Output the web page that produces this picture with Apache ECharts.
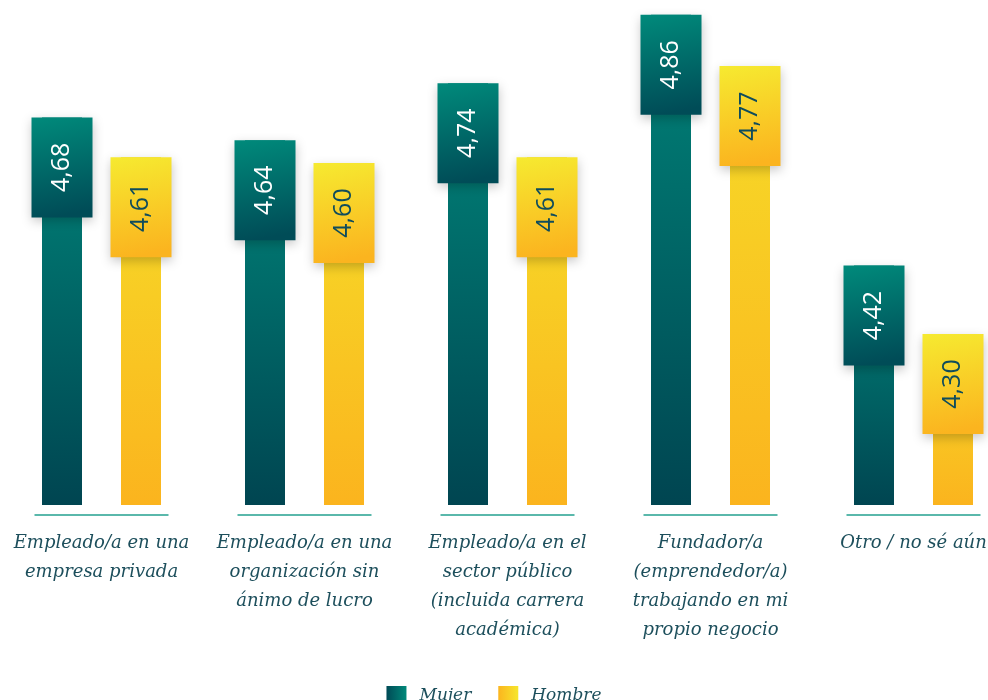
<!DOCTYPE html>
<html>
<head>
<meta charset="utf-8">
<script src="https://cdn.jsdelivr.net/npm/echarts@6/dist/echarts.min.js"></script>
<style>
  html, body { margin: 0; padding: 0; background: #fff; }
  #chart { width: 988px; height: 700px; }
</style>
</head>
<body>
<div id="chart"></div>
<script>
var categories = [
  'Empleado/a en una\nempresa privada',
  'Empleado/a en una\norganización sin\nánimo de lucro',
  'Empleado/a en el\nsector público\n(incluida carrera\nacadémica)',
  'Fundador/a\n(emprendedor/a)\ntrabajando en mi\npropio negocio',
  'Otro / no sé aún'
];
var mujer = [4.68, 4.64, 4.74, 4.86, 4.42];
var hombre = [4.61, 4.60, 4.61, 4.77, 4.30];

var yMin = 4;
var yMax = 4.9;

var chart = echarts.init(document.getElementById('chart'));

function grad(x2, y2, c1, c2) {
  return new echarts.graphic.LinearGradient(0, 0, x2, y2, [
    { offset: 0, color: c1 },
    { offset: 1, color: c2 }
  ]);
}

function fmt(v) {
  return v.toFixed(2).replace('.', ',');
}

// label box sitting on top of each bar
function boxRenderer(offset, c1, c2, textColor) {
  return function (params, api) {
    var p = api.coord([api.value(0), api.value(1)]);
    var x = p[0] + offset;
    return {
      type: 'group',
      children: [
        {
          type: 'rect',
          shape: { x: x - 30.5, y: p[1], width: 61, height: 100 },
          style: {
            fill: grad(0.3, 1, c1, c2),
            shadowBlur: 10,
            shadowOffsetY: 4,
            shadowColor: 'rgba(0,0,0,0.22)'
          }
        },
        {
          type: 'text',
          x: x,
          y: p[1] + 50,
          rotation: Math.PI / 2,
          style: {
            text: fmt(api.value(1)),
            fill: textColor,
            font: '25px "Open Sans"',
            align: 'center',
            verticalAlign: 'middle'
          }
        }
      ]
    };
  };
}

var options = {
  animation: false,
  grid: {
    left: 0, right: -27, top: -8, bottom: 195,
    containLabel: false,
    outerBoundsMode: 'none'
  },
  legend: {
    top: 681,
    left: 'center',
    itemWidth: 20,
    itemHeight: 19,
    itemGap: 27,
    icon: 'rect',
    textStyle: {
      fontFamily: 'DejaVu Serif',
      fontStyle: 'italic',
      fontSize: 17,
      color: '#1d4f5c',
      padding: [0, 0, 0, 8]
    },
    data: [
      { name: 'Mujer', itemStyle: { color: grad(1, 0, '#004a56', '#00897a') } },
      { name: 'Hombre', itemStyle: { color: grad(1, 0, '#fbb51f', '#f6e62c') } }
    ]
  },
  xAxis: {
    type: 'category',
    data: categories,
    axisLine: { show: false },
    axisTick: { show: false },
    axisLabel: {
      interval: 0,
      margin: 24,
      fontFamily: 'DejaVu Serif',
      fontStyle: 'italic',
      fontSize: 18,
      lineHeight: 29,
      color: '#1d4f5c',
      verticalAlign: 'top'
    }
  },
  yAxis: {
    type: 'value',
    min: yMin,
    max: yMax,
    show: false,
    splitLine: { show: false }
  },
  series: [
    {
      name: 'Mujer',
      type: 'bar',
      data: mujer,
      barWidth: 40,
      barGap: '97.5%',
      itemStyle: { color: grad(0, 1, '#008479', '#004551') }
    },
    {
      name: 'Hombre',
      type: 'bar',
      data: hombre,
      barWidth: 40,
      itemStyle: { color: grad(0, 1, '#f6dc28', '#fbb41e') }
    },
    {
      name: 'cajaMujer',
      type: 'custom',
      z: 5,
      renderItem: boxRenderer(-39.5, '#008a7b', '#004c57', '#ffffff'),
      data: mujer.map(function (v, i) { return [i, v]; })
    },
    {
      name: 'cajaHombre',
      type: 'custom',
      z: 5,
      renderItem: boxRenderer(39.5, '#f6ea30', '#fbb41f', '#0f4c5c'),
      data: hombre.map(function (v, i) { return [i, v]; })
    },
    {
      // separator line under each group
      name: 'linea',
      type: 'custom',
      renderItem: function (params, api) {
        var p = api.coord([api.value(0), yMin]);
        return {
          type: 'line',
          shape: { x1: p[0] - 67, y1: p[1] + 10, x2: p[0] + 67, y2: p[1] + 10 },
          style: { stroke: '#23a08f', lineWidth: 1.5 }
        };
      },
      data: categories.map(function (c, i) { return [i, yMin]; })
    }
  ]
};

chart.setOption(options);
</script>
</body>
</html>
